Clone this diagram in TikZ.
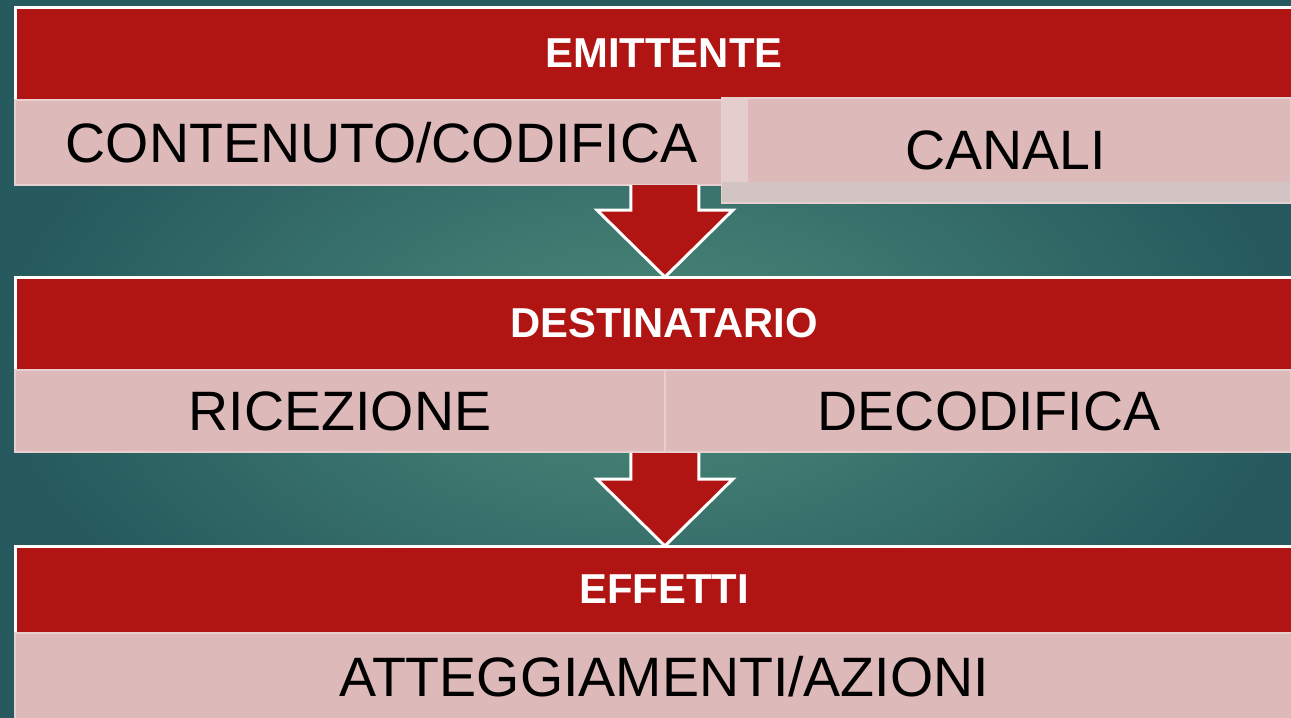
\documentclass[tikz,border=0pt]{standalone}
\usepackage{fontspec}
\setmainfont{Liberation Sans}
\usetikzlibrary{calc}
\definecolor{barred}{RGB}{176,21,19}
\definecolor{cellpink}{RGB}{221,185,185}
\definecolor{celledge}{RGB}{231,207,207}
\definecolor{striplight}{RGB}{227,205,205}
\definecolor{stripgray}{RGB}{211,196,196}
\definecolor{bgin}{RGB}{76,138,122}
\definecolor{bgout}{RGB}{38,90,94}
\begin{document}
\begin{tikzpicture}[x=0.02cm, y=-0.02cm,
    bar/.style={rectangle, fill=barred, draw=white, line width=1.7pt, outer sep=0pt, inner sep=0pt,
        minimum width=25.96cm, minimum height=1.86cm, text=white, font=\fontsize{23.8}{28}\selectfont\bfseries},
    cell/.style={rectangle, fill=cellpink, draw=celledge, line width=1pt, outer sep=0pt, inner sep=0pt,
        minimum height=1.64cm, font=\fontsize{31.6}{36}\selectfont},
    flow/.style={fill=barred, draw=white, line width=1.7pt, line join=miter}
]
    \useasboundingbox (0,0) rectangle (1291,717);
    \clip (0,0) rectangle (1291,717);
    \shade[inner color=bgin, outer color=bgout] (0,0) rectangle (1291,717);

    \node[bar] (emit) at (664,53.5) {EMITTENTE};
    \node[cell, minimum width=14.14cm, minimum height=1.7cm] (contenuto) at (368.5,142.5) {\hspace{0.52cm}CONTENUTO/CODIFICA};
    \node[cell, minimum width=11.38cm, minimum height=2.1cm, fill=stripgray,
        path picture={
            \fill[striplight] (path picture bounding box.north west) rectangle ([yshift=0.42cm]path picture bounding box.south east);
            \fill[cellpink] ([xshift=0.52cm]path picture bounding box.north west) rectangle ([yshift=0.42cm]path picture bounding box.south east);
        }] (canali) at (1006,150.5) {CANALI};

    \node[bar] (dest) at (664,323.5) {DESTINATARIO};
    \node[cell, minimum width=13cm] (ricezione) at (340,411) {RICEZIONE};
    \node[cell, minimum width=12.52cm] (decodifica) at (978,411) {\hspace{0.44cm}DECODIFICA};

    \node[bar, minimum height=1.74cm] (effetti) at (664,589.5) {EFFETTI};
    \node[cell, minimum width=25.96cm, minimum height=1.74cm] (azioni) at (664,676.5) {ATTEGGIAMENTI/AZIONI};

    \coordinate (tip1) at (ricezione.east |- dest.north);
    \coordinate (tip2) at (ricezione.east |- effetti.north);

    \draw[flow] ($(tip1)+(-34,-92)$) -- ++(0,25) -- ++(-34,0) -- (tip1) -- ($(tip1)+(68,-67)$) -- ++(-34,0) -- ++(0,-25);
    \draw[flow] ($(tip2)+(-34,-93)$) -- ++(0,26) -- ++(-34,0) -- (tip2) -- ($(tip2)+(68,-67)$) -- ++(-34,0) -- ++(0,-26);
\end{tikzpicture}
\end{document}
